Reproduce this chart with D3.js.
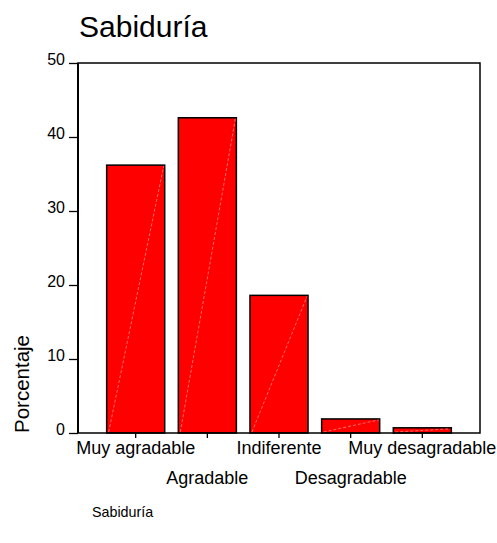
<!DOCTYPE html>
<html lang="es">
<head>
<meta charset="utf-8">
<title>Sabiduría</title>
<script src="https://cdn.jsdelivr.net/npm/d3@7"></script>
<style>
body { margin: 0; background: #fff; }
text { font-family: "Liberation Sans", Arial, sans-serif; fill: #000; }
</style>
</head>
<body>
<script>
// data
var categories = ["Muy agradable", "Agradable", "Indiferente", "Desagradable", "Muy desagradable"];
var percents = [36.2, 42.6, 18.6, 1.9, 0.7];
var yTicks = [0, 10, 20, 30, 40, 50];

var w = 497, h = 543;
var plotLeft = 78, plotRight = 480, plotTop = 63, plotBottom = 433;

var svg = d3.select("body").append("svg")
    .attr("width", w)
    .attr("height", h);

var x = d3.scaleBand()
    .domain(categories)
    .range([plotLeft, plotRight])
    .paddingInner(0.19)
    .paddingOuter(0.4);

var y = d3.scaleLinear()
    .domain([0, 50])
    .range([plotBottom, plotTop]);

// title
svg.append("text")
    .attr("x", 79)
    .attr("y", 37)
    .style("font-size", "30px")
    .text("Sabiduría");

// bars
var bars = svg.selectAll("g.bar")
    .data(categories)
    .enter()
    .append("g")
    .attr("class", "bar");

bars.append("rect")
    .attr("x", function(d) { return x(d); })
    .attr("y", function(d, i) { return y(percents[i]); })
    .attr("width", x.bandwidth())
    .attr("height", function(d, i) { return y(0) - y(percents[i]); })
    .attr("fill", "#ff0000")
    .attr("stroke", "#000")
    .attr("stroke-width", 1.5);

// faint diagonal artefact inside each bar
bars.append("line")
    .attr("x1", function(d) { return x(d) + 2; })
    .attr("y1", y(0) - 1)
    .attr("x2", function(d) { return x(d) + x.bandwidth() - 1; })
    .attr("y2", function(d, i) { return y(percents[i]) + 1; })
    .attr("stroke", "#ff9a9a")
    .attr("stroke-width", 0.7)
    .attr("stroke-dasharray", "3,2");

// frame
svg.append("rect")
    .attr("x", plotLeft)
    .attr("y", plotTop)
    .attr("width", plotRight - plotLeft)
    .attr("height", plotBottom - plotTop)
    .attr("fill", "none")
    .attr("stroke", "#000")
    .attr("stroke-width", 1.5);

svg.append("line")
    .attr("x1", plotLeft).attr("x2", plotLeft)
    .attr("y1", plotTop).attr("y2", plotBottom)
    .attr("stroke", "#000")
    .attr("stroke-width", 2);

// y axis
var yAxis = svg.append("g")
    .attr("transform", "translate(" + plotLeft + ",0)")
    .call(d3.axisLeft(y).tickValues(yTicks).tickSize(9).tickPadding(4));
yAxis.select(".domain").remove();
yAxis.selectAll("line").attr("stroke-width", 1.3);
yAxis.selectAll("text")
    .style("font-size", "16px")
    .attr("dy", "0.1em");

// x axis with staggered labels
var xAxis = svg.append("g")
    .attr("transform", "translate(0," + plotBottom + ")")
    .call(d3.axisBottom(x).tickSize(5).tickPadding(0));
xAxis.select(".domain").remove();
xAxis.selectAll("line").attr("stroke-width", 1.3);
xAxis.selectAll("text")
    .style("font-size", "18px")
    .attr("dy", null)
    .attr("y", function(d, i) { return i % 2 === 0 ? 21 : 51; });

// y label
svg.append("text")
    .attr("transform", "translate(29," + plotBottom + ") rotate(-90)")
    .style("font-size", "20.5px")
    .text("Porcentaje");

// footer
svg.append("text")
    .attr("x", 92)
    .attr("y", 517)
    .style("font-size", "14.3px")
    .text("Sabiduría");
</script>
</body>
</html>
